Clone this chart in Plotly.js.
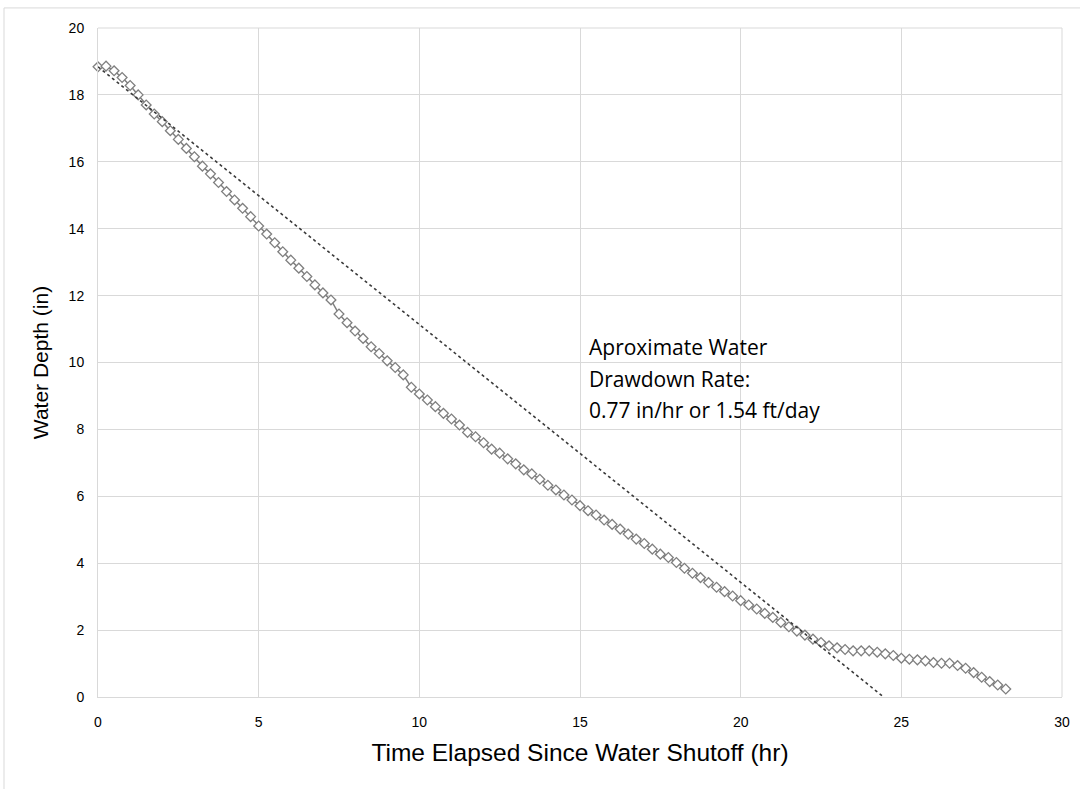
<!DOCTYPE html>
<html>
<head>
<meta charset="utf-8">
<script src="https://cdn.plot.ly/plotly-3.0.1.min.js"></script>
<style>
html,body{margin:0;padding:0;background:#fff;}
#chart{width:1080px;height:789px;}
</style>
</head>
<body>
<div id="chart"></div>
<script>
// Time elapsed since water shutoff (hr)
const timeHr = [
  0, 0.25, 0.5, 0.75, 1, 1.25, 1.5, 1.75, 2, 2.25, 2.5, 2.75,
  3, 3.25, 3.5, 3.75, 4, 4.25, 4.5, 4.75, 5, 5.25, 5.5, 5.75,
  6, 6.25, 6.5, 6.75, 7, 7.25, 7.5, 7.75, 8, 8.25, 8.5, 8.75,
  9, 9.25, 9.5, 9.75, 10, 10.25, 10.5, 10.75, 11, 11.25, 11.5, 11.75,
  12, 12.25, 12.5, 12.75, 13, 13.25, 13.5, 13.75, 14, 14.25, 14.5, 14.75,
  15, 15.25, 15.5, 15.75, 16, 16.25, 16.5, 16.75, 17, 17.25, 17.5, 17.75,
  18, 18.25, 18.5, 18.75, 19, 19.25, 19.5, 19.75, 20, 20.25, 20.5, 20.75,
  21, 21.25, 21.5, 21.75, 22, 22.25, 22.5, 22.75, 23, 23.25, 23.5, 23.75,
  24, 24.25, 24.5, 24.75, 25, 25.25, 25.5, 25.75, 26, 26.25, 26.5, 26.75,
  27, 27.25, 27.5, 27.75, 28, 28.25
];
// Water depth (in)
const depthIn = [
  18.84, 18.86, 18.72, 18.52, 18.28, 18.00, 17.70, 17.43, 17.20, 16.93, 16.67, 16.40,
  16.15, 15.87, 15.64, 15.38, 15.11, 14.86, 14.61, 14.36, 14.08, 13.84, 13.58, 13.31,
  13.06, 12.82, 12.57, 12.32, 12.08, 11.87, 11.45, 11.19, 10.94, 10.72, 10.47, 10.27,
  10.05, 9.85, 9.63, 9.26, 9.06, 8.88, 8.68, 8.48, 8.31, 8.13, 7.91, 7.78,
  7.60, 7.41, 7.29, 7.12, 6.97, 6.79, 6.67, 6.51, 6.33, 6.19, 6.04, 5.89,
  5.72, 5.57, 5.44, 5.29, 5.16, 5.02, 4.87, 4.72, 4.59, 4.42, 4.27, 4.17,
  4.02, 3.85, 3.70, 3.57, 3.42, 3.28, 3.15, 3.02, 2.88, 2.75, 2.63, 2.50,
  2.38, 2.23, 2.10, 1.97, 1.85, 1.73, 1.63, 1.53, 1.47, 1.42, 1.38, 1.38,
  1.38, 1.34, 1.29, 1.24, 1.16, 1.13, 1.11, 1.08, 1.03, 1.01, 1.01, 0.94,
  0.86, 0.73, 0.59, 0.46, 0.36, 0.24
];
// Linear trendline endpoints (rate 0.77 in/hr)
const trendX = [0, 24.45];
const trendY = [18.84, 0];

const xTicks = [0, 5, 10, 15, 20, 25, 30];
const yTicks = [0, 2, 4, 6, 8, 10, 12, 14, 16, 18, 20];

const xTitle = 'Time Elapsed Since Water Shutoff (hr)';
const yTitle = 'Water Depth (in)';
const noteLines = ['Aproximate Water', 'Drawdown Rate:', '0.77 in/hr or 1.54 ft/day'];
const noteX = 15.22;
const noteLineY = [10.46, 9.51, 8.58];

const FONT = '"Liberation Sans Narrow", "Arial Narrow", "Liberation Sans", Arial, sans-serif';
const NOTEFONT = '"Open Sans", "Liberation Sans", Arial, sans-serif';

const traces = [
  {
    x: timeHr, y: depthIn, type: 'scatter', mode: 'lines+markers',
    line: {color: '#7f7f7f', width: 1.5},
    marker: {symbol: 'diamond', size: 7.5, color: '#ffffff', line: {color: '#7f7f7f', width: 1.3}},
    cliponaxis: false, hoverinfo: 'x+y', showlegend: false
  },
  {
    x: trendX, y: trendY, type: 'scatter', mode: 'lines',
    line: {color: '#3a3a3a', width: 1.6, dash: 'dot'},
    showlegend: false
  }
];

const layout = {
  width: 1080, height: 789,
  margin: {l: 98, r: 18, t: 28, b: 92},
  paper_bgcolor: '#ffffff', plot_bgcolor: '#ffffff',
  font: {family: FONT, color: '#000000', size: 13},
  showlegend: false,
  xaxis: {
    range: [0, 30], tickvals: xTicks, ticktext: xTicks.map(String),
    showgrid: true, gridcolor: '#d9d9d9', gridwidth: 1,
    zeroline: false, showline: true, linecolor: '#d9d9d9', linewidth: 1, mirror: false,
    ticks: '', ticklabelstandoff: 12, tickfont: {family: FONT, size: 14, color: '#000000'},
    title: {text: xTitle, font: {family: FONT, size: 24.5, color: '#000000'}, standoff: 15},
    fixedrange: true
  },
  yaxis: {
    range: [0, 20], tickvals: yTicks, ticktext: yTicks.map(String),
    showgrid: true, gridcolor: '#d9d9d9', gridwidth: 1,
    zeroline: false, showline: true, linecolor: '#d9d9d9', linewidth: 1,
    ticks: '', ticklabelstandoff: 10, tickfont: {family: FONT, size: 14, color: '#000000'},
    title: {text: yTitle, font: {family: FONT, size: 21, color: '#000000'}, standoff: 14},
    fixedrange: true
  },
  shapes: [
    {type: 'line', xref: 'paper', yref: 'paper', x0: 1, x1: 1, y0: 0, y1: 1,
     line: {color: '#d9d9d9', width: 1}},
    {type: 'line', xref: 'paper', yref: 'paper', x0: 0, x1: 1, y0: 1, y1: 1,
     line: {color: '#d9d9d9', width: 1}},
    {type: 'line', xref: 'paper', yref: 'paper', x0: -0.0975, x1: -0.0975, y0: -0.15, y1: 1.03,
     line: {color: '#d9d9d9', width: 1}},
    {type: 'line', xref: 'paper', yref: 'paper', x0: -0.0975, x1: 1.05, y0: 1.03, y1: 1.03,
     line: {color: '#d9d9d9', width: 1}}
  ],
  annotations: noteLines.map((t, i) => ({
    x: noteX, y: noteLineY[i], xref: 'x', yref: 'y', text: t, showarrow: false,
    xanchor: 'left', yanchor: 'middle', align: 'left',
    font: {family: NOTEFONT, size: 21, color: '#000000'}
  }))
};

Plotly.newPlot('chart', traces, layout, {displayModeBar: false, staticPlot: true});
</script>
</body>
</html>
